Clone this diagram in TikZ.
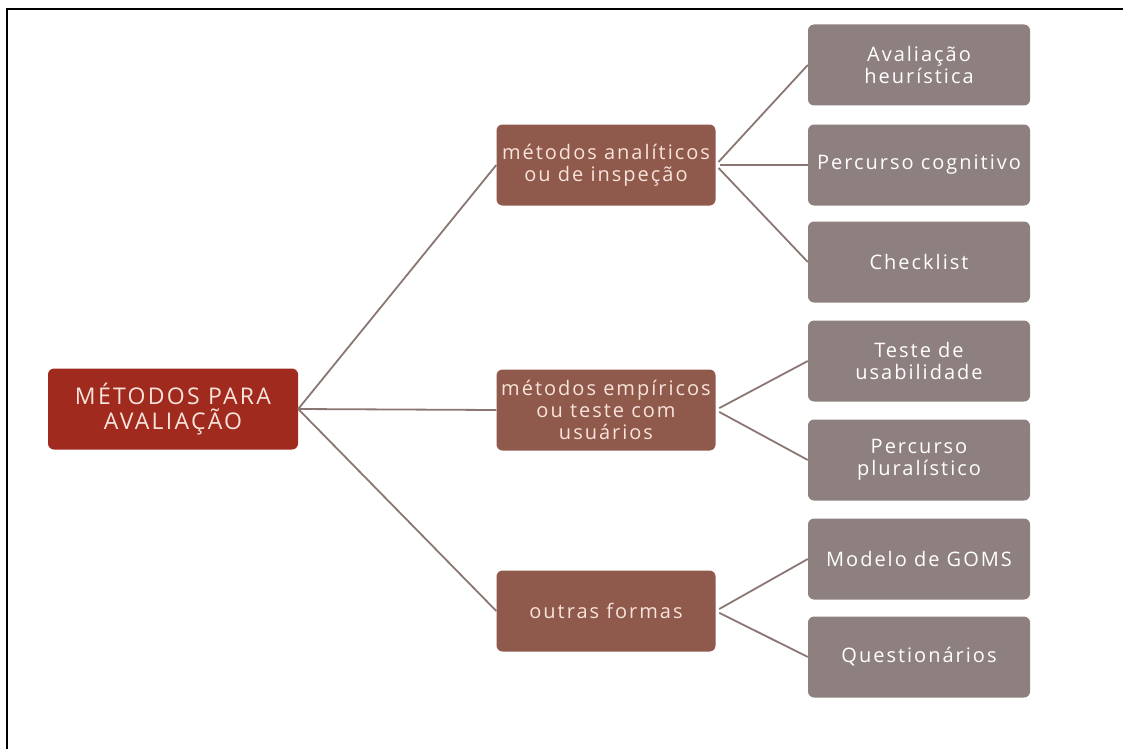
\documentclass[tikz,border=0pt]{standalone}
\usepackage{fontspec}
\setmainfont{Open Sans}[LetterSpace=10]
\definecolor{rootred}{RGB}{160,42,30}
\definecolor{methodbrown}{RGB}{143,89,75}
\definecolor{leafgray}{RGB}{143,128,128}
\definecolor{linkgray}{RGB}{138,118,114}
\definecolor{paletext}{RGB}{248,228,220}
\begin{document}
\begin{tikzpicture}[x=1pt, y=-1pt]
\tikzset{
  box/.style={rounded corners=6pt, minimum height=81pt, align=center,
    text=paletext, inner sep=2pt, font=\fontsize{20}{22}\selectfont},
  root box/.style={box, fill=rootred, minimum width=250pt,
    font=\fontsize{23}{25}\selectfont},
  method box/.style={box, fill=methodbrown, minimum width=219pt},
  leaf box/.style={box, fill=leafgray, minimum width=222pt, text=white},
  link/.style={draw=linkgray, line width=1.8pt}
}
\useasboundingbox (0,0) rectangle (1123,749);
% frame
\draw [line width=2.5pt] (7,749) -- (7,9) -- (1123,9);
% nodes
\node [root box] (root) at (173,409) {MÉTODOS PARA\\AVALIAÇÃO};
\foreach \l/\y [count=\i] in {{métodos analíticos\\ou de inspeção}/165,
    {métodos empíricos\\ou teste com\\usuários}/410, {outras formas}/611}
  \node [method box] (method-\i) at (606,\y) {\l};
\foreach \l/\y [count=\i] in {{Avaliação\\heurística}/65, {Percurso cognitivo}/165,
    {Checklist}/262, {Teste de\\usabilidade}/361, {Percurso\\pluralístico}/460,
    {Modelo de GOMS}/559, {Questionários}/657}
  \node [leaf box] (leaf-\i) at (919,\y) {\l};
% links
\foreach \j in {1,2,3}
  \draw [link] (root.east) -- (method-\j.west);
\foreach \i/\j in {1/1,1/2,1/3,2/4,2/5,3/6,3/7}
  \draw [link, shorten <=4pt] (method-\i.east) -- (leaf-\j.west);
\end{tikzpicture}
\end{document}
